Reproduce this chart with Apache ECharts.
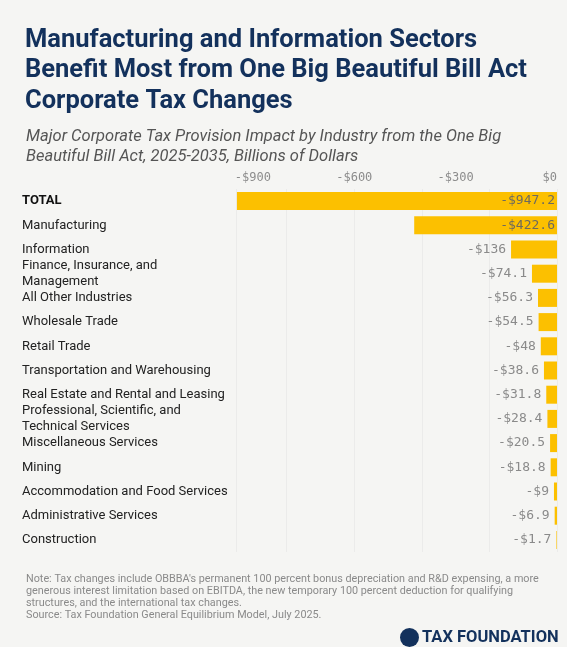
<!DOCTYPE html>
<html>
<head>
<meta charset="utf-8">
<script src="https://cdn.jsdelivr.net/npm/echarts@6/dist/echarts.min.js"></script>
<style>
  html, body { margin: 0; padding: 0; background: #f5f5f3; }
  #chart { width: 567px; height: 647px; }
</style>
</head>
<body>
<div id="chart"></div>
<script>
const industries = [
  'TOTAL',
  'Manufacturing',
  'Information',
  'Finance, Insurance, and\nManagement',
  'All Other Industries',
  'Wholesale Trade',
  'Retail Trade',
  'Transportation and Warehousing',
  'Real Estate and Rental and Leasing',
  'Professional, Scientific, and\nTechnical Services',
  'Miscellaneous Services',
  'Mining',
  'Accommodation and Food Services',
  'Administrative Services',
  'Construction',
]
const impact = [
  -947.2, -422.6, -136, -74.1, -56.3, -54.5, -48, -38.6, -31.8, -28.4, -20.5,
  -18.8, -9, -6.9, -1.7,
]
const tickValues = [-900, -600, -300, 0]

const titleText =
  'Manufacturing and Information Sectors\nBenefit Most from One Big Beautiful Bill Act\nCorporate Tax Changes'
const subtitleText =
  'Major Corporate Tax Provision Impact by Industry from the One Big\nBeautiful Bill Act, 2025-2035, Billions of Dollars'
const noteText =
  "Note: Tax changes include OBBBA's permanent 100 percent bonus depreciation and R&D expensing, a more\ngenerous interest limitation based on EBITDA, the new temporary 100 percent deduction for qualifying\nstructures, and the international tax changes.\nSource: Tax Foundation General Equilibrium Model, July 2025."

const money = (v) => (v < 0 ? '-$' : '$') + Math.abs(v)

const myChart = echarts.init(document.getElementById('chart'))

const option = {
  backgroundColor: '#f5f5f3',
  animation: false,
  title: [
    {
      text: titleText,
      left: 20,
      top: 20,
      textStyle: {
        fontFamily: 'Roboto',
        fontWeight: 'bold',
        fontSize: 25.5,
        lineHeight: 30.5,
        color: '#13315c',
      },
    },
    {
      text: subtitleText,
      left: 21,
      top: 122,
      textStyle: {
        fontFamily: 'Roboto',
        fontStyle: 'italic',
        fontWeight: 'normal',
        fontSize: 16.5,
        lineHeight: 20,
        color: '#555',
      },
    },
    {
      text: noteText,
      left: 21,
      top: 568,
      textStyle: {
        fontFamily: 'Roboto',
        fontWeight: 'normal',
        fontSize: 10.8,
        lineHeight: 12,
        color: '#8a8a8a',
      },
    },
  ],
  graphic: [
    {
      type: 'circle',
      left: 400,
      top: 628,
      shape: { r: 9.5 },
      style: { fill: '#13315c' },
    },
    {
      type: 'text',
      left: 422,
      top: 629,
      style: {
        text: 'TAX FOUNDATION',
        font: 'bold 16.5px Roboto',
        fill: '#13315c',
      },
    },
  ],
  grid: {
    left: 236,
    right: 10,
    top: 189,
    bottom: 95,
  },
  xAxis: {
    type: 'value',
    position: 'top',
    min: -950,
    max: 0,
    axisLine: { show: false },
    axisTick: { show: false },
    splitLine: {
      show: true,
      lineStyle: { color: '#ebebea', width: 1 },
      customValues: [-900, -600, -300],
    },
    axisLabel: {
      customValues: tickValues,
      formatter: money,
      margin: 5,
      alignMaxLabel: 'right',
      fontFamily: 'DejaVu Sans Mono',
      fontSize: 12,
      color: '#8c8c8c',
    },
  },
  yAxis: {
    type: 'category',
    inverse: true,
    data: industries,
    axisLine: { show: false },
    axisTick: { show: false },
    axisLabel: {
      align: 'left',
      margin: 214,
      fontFamily: 'Roboto',
      fontSize: 13,
      lineHeight: 16,
      color: '#222',
      formatter: function (v) {
        return v === 'TOTAL' ? '{b|' + v + '}' : v
      },
      rich: {
        b: {
          fontFamily: 'Roboto',
          fontWeight: 'bold',
          fontSize: 13,
          color: '#111',
        },
      },
    },
  },
  series: [
    {
      type: 'bar',
      barWidth: 18,
      itemStyle: { color: '#fcc000' },
      data: impact.map(function (v) {
        return {
          value: v,
          label:
            v < -300
              ? { position: 'insideRight', distance: 2, color: '#6e6a5e' }
              : { position: 'left', distance: 5 },
        }
      }),
      label: {
        show: true,
        formatter: function (p) {
          return money(p.value)
        },
        fontFamily: 'DejaVu Sans Mono',
        fontSize: 13,
        color: '#8a8a8a',
      },
    },
  ],
}

myChart.setOption(option)
</script>
</body>
</html>
